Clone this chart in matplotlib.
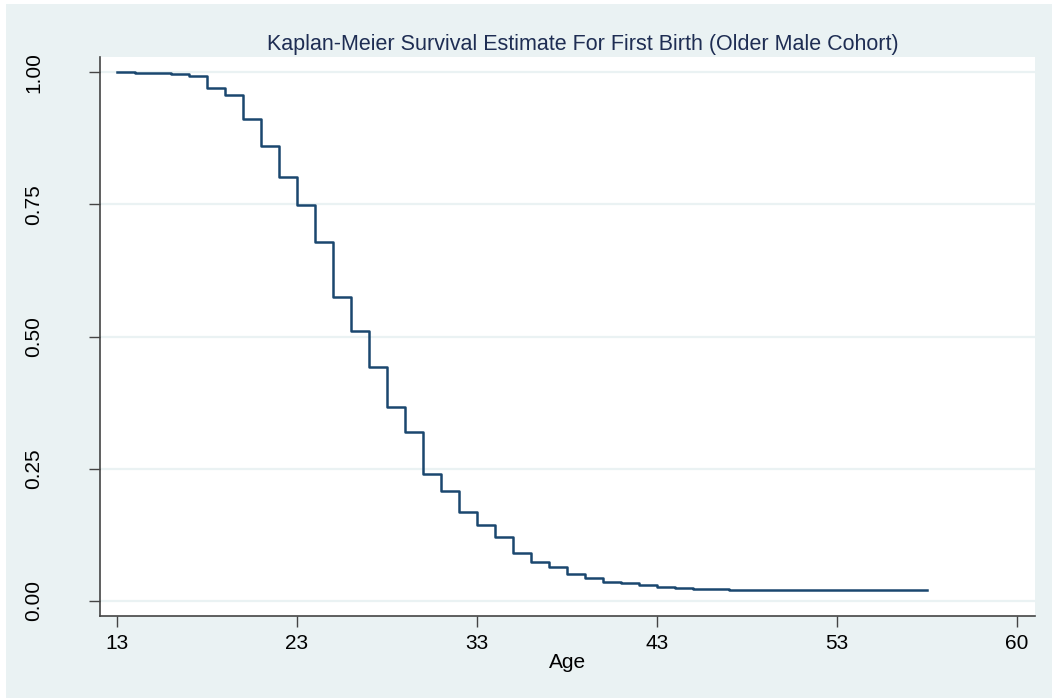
import matplotlib.pyplot as plt
from matplotlib.patches import Rectangle

# Kaplan-Meier Schätzung
ages = [13, 14, 16, 17, 18, 19, 20, 21, 22, 23, 24, 25, 26, 27, 28, 29, 30,
        31, 32, 33, 34, 35, 36, 37, 38, 39, 40, 41, 42, 43, 44, 45, 47, 58]
surv = [1.000, 0.9987, 0.9968, 0.993, 0.970, 0.958, 0.911, 0.861, 0.802,
        0.748, 0.678, 0.575, 0.511, 0.442, 0.367, 0.320, 0.239, 0.208, 0.167,
        0.143, 0.120, 0.091, 0.074, 0.063, 0.051, 0.042, 0.035, 0.0335,
        0.0297, 0.026, 0.0235, 0.0221, 0.0203, 0.0203]

xtick_pos = [13, 23, 33, 43, 53, 63]
xtick_labels = ['13', '23', '33', '43', '53', '60']
ytick_pos = [0.0, 0.25, 0.5, 0.75, 1.0]
ytick_labels = ['0.00', '0.25', '0.50', '0.75', '1.00']

bg = '#eaf2f3'
navy = '#1a476f'

plt.rcParams['font.family'] = ['Liberation Sans', 'DejaVu Sans']

fig = plt.figure(figsize=(10.52, 6.98), dpi=100, facecolor='white')
# Stata-Hintergrund mit schmalem weißen Rand
fig.patches.append(Rectangle((6 / 1052, 0), 1 - 6 / 1052, 1 - 4 / 698,
                             transform=fig.transFigure, facecolor=bg,
                             edgecolor='none', zorder=-10))

ax = fig.add_axes([100 / 1052, 1 - 616 / 698, 935 / 1052, 559 / 698])
ax.set_zorder(1)
ax.set_facecolor('white')

ax.step(ages, surv, where='post', color=navy, linewidth=1.8, zorder=3)

ax.set_xlim(12.07, 64.02)
ax.set_ylim(-0.029, 1.029)

ax.set_xticks(xtick_pos)
ax.set_xticklabels(xtick_labels)
ax.set_yticks(ytick_pos)
ax.set_yticklabels(ytick_labels, rotation=90, va='center')

for y in ytick_pos:
    ax.axhline(y, color=bg, linewidth=1.6, zorder=1)

for s in ['top', 'right']:
    ax.spines[s].set_visible(False)
for s in ['left', 'bottom']:
    ax.spines[s].set_color('#444444')
    ax.spines[s].set_linewidth(1.2)

ax.tick_params(axis='both', direction='out', length=8, width=1.0,
               color='#444444', labelsize=15, labelcolor='black')
ax.tick_params(axis='y', pad=33)
ax.tick_params(axis='x', pad=5)

ax.set_xlabel('Age', fontsize=15, labelpad=0)
ax.set_title('Kaplan-Meier Survival Estimate For First Birth (Older Male Cohort)',
             fontsize=15.5, color='#1e2d53', pad=5, x=0.516)

fig.savefig('out.png', dpi=100, facecolor=fig.get_facecolor())
